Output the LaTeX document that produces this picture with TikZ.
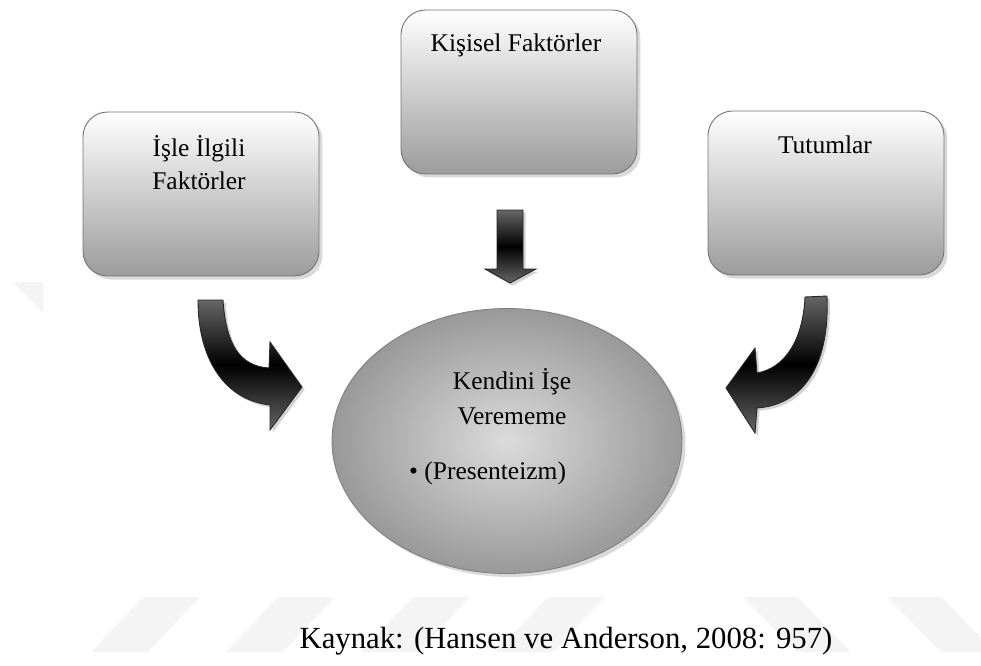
\documentclass[tikz,border=0pt]{standalone}
\usepackage{fontspec}
\setmainfont{Liberation Serif}
\usetikzlibrary{shapes.geometric}
\usetikzlibrary{shadows}

\tikzset{
  factorbox/.style={rectangle, rounded corners=14pt, draw=black!55, line width=0.5pt,
    top color=white, bottom color=gray!78, minimum width=4.72cm, minimum height=3.28cm,
    drop shadow={shadow xshift=2pt, shadow yshift=-2pt, opacity=0.3}},
  boxtext/.style={align=center, font=\fontsize{14.5}{18.8}\selectfont},
  centre/.style={ellipse, draw=black!50, line width=0.5pt, inner color=gray!28,
    outer color=gray!80, minimum width=7cm, minimum height=5.3cm,
    drop shadow={shadow xshift=2pt, shadow yshift=-2pt, opacity=0.3}},
  bigarrow/.style={draw=black!85, line width=0.5pt, top color=black!60,
    bottom color=black!60, middle color=black,
    drop shadow={shadow xshift=1.5pt, shadow yshift=-1.5pt, opacity=0.35}},
  stripe/.style={fill=gray!9}
}

\begin{document}
\begin{tikzpicture}[x=0.02cm, y=-0.02cm]
    \useasboundingbox (0,0) rectangle (981,666);

    % Watermark stripes
    \fill[stripe] (13,282) -- (43,282) -- (43,313) -- cycle;
    \foreach \x in {143,278,413,548} {
        \fill[stripe] (\x,597) -- (\x+57,597) -- (\x+5,652) -- (\x-52,652) -- cycle;
    }
    \foreach \x in {743,887} {
        \fill[stripe] (\x,597) -- (\x+54,597) -- (\x+108,652) -- (\x+54,652) -- cycle;
    }

    % Factor boxes
    \node[factorbox] (isle) at (201,194) {};
    \node[boxtext] (isletext) at (199,163) {İşle İlgili\\Faktörler};
    \node[factorbox] (kisisel) at (519,92) {};
    \node[boxtext] (kisiseltext) at (516,45) {Kişisel Faktörler};
    \node[factorbox] (tutum) at (826,193) {};
    \node[boxtext] (tutumtext) at (825,145) {Tutumlar};

    % Centre ellipse
    \node[centre] (kendini) at (507,441) {};
    \node[boxtext, font=\fontsize{14.5}{20}\selectfont] (kendinitext) at (512,397) {Kendini İşe\\Verememe};
    \node[boxtext, anchor=west] (presenteizm) at (403,473) {• (Presenteizm)};

    % Block arrows
    \path[bigarrow] (198,300) -- (223,300) .. controls (226,345) and (240,366) .. (269,368)
        -- (270,342) -- (302,387) -- (270,430) -- (270,405)
        .. controls (225,400) and (198,360) .. (198,300) -- cycle;
    \path[bigarrow] (497,210) -- (523,210) -- (523,269) -- (536,269) -- (510,283)
        -- (485,269) -- (497,269) -- cycle;
    \path[bigarrow] (805,297) -- (827,296) .. controls (830,370) and (800,405) .. (757,408)
        -- (755,433) -- (726,388) -- (755,348) -- (757,373)
        .. controls (785,368) and (803,340) .. (805,297) -- cycle;

    % Source
    \node[font=\fontsize{17.5}{21}\selectfont] (kaynak) at (566,641) {Kaynak: (Hansen ve Anderson, 2008: 957)};
\end{tikzpicture}
\end{document}
